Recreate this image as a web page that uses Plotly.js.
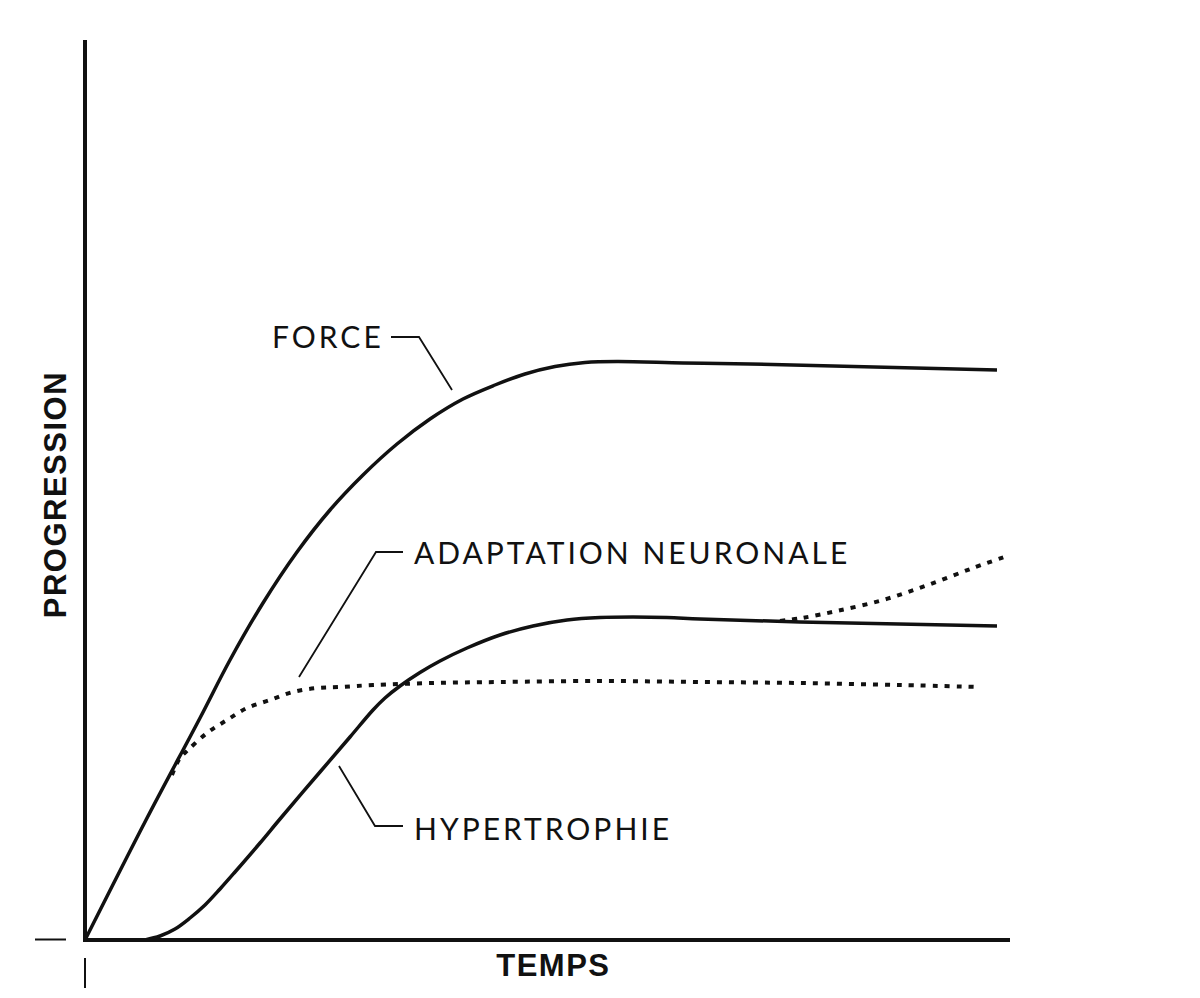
<!DOCTYPE html>
<html>
<head>
<meta charset="utf-8">
<script src="https://cdn.plot.ly/plotly-3.0.1.min.js"></script>
<style>
  html, body { margin: 0; padding: 0; background: #fff; }
  #chart { width: 1200px; height: 998px; }
</style>
</head>
<body>
<div id="chart"></div>
<script>
// Time (x) and progression (y) values, arbitrary units
var forceT = [0, 6.1, 11.5, 14.5, 17.8, 21.2, 24.5, 27.8, 31.2, 34.5, 37.8, 41.0, 44.0, 47.0, 50.0, 53.2, 59.8, 66.5, 91.2];
var forceV = [0, 12.0, 22.2, 28.0, 33.7, 38.8, 43.0, 46.5, 49.6, 52.1, 54.1, 55.5, 56.6, 57.35, 57.75, 57.85, 57.7, 57.6, 57.0];

var hyperT = [6.0, 7.5, 9.0, 10.5, 12.0, 13.5, 15.0, 17.5, 19.5, 23.5, 26.5, 28.8, 30.0, 31.5, 33.5, 35.5, 38.2, 41.5, 44.8, 48.2, 51.5, 54.8, 58.2, 61.5, 71.5, 91.2];
var hyperV = [0, 0.4, 1.1, 2.2, 3.5, 5.1, 6.8, 9.7, 12.1, 16.8, 20.3, 23.0, 24.2, 25.4, 26.75, 27.9, 29.2, 30.5, 31.4, 32.0, 32.25, 32.3, 32.25, 32.1, 31.8, 31.4];

var neuroT = [8.7, 9.5, 10.3, 12.2, 14.2, 16.2, 18.5, 20.8, 23.2, 25.5, 28.8, 34.8, 41.5, 51.5, 61.5, 71.5, 81.5, 89.5];
var neuroV = [16.5, 18.2, 19.0, 20.7, 22.0, 23.2, 24.0, 24.8, 25.2, 25.3, 25.5, 25.7, 25.8, 25.9, 25.8, 25.7, 25.5, 25.3];

var branchT = [69.5, 71.7, 75.2, 79.8, 84.3, 88.8, 92.5];
var branchV = [31.9, 32.2, 32.9, 34.0, 35.5, 37.2, 38.5];

var labels = ["FORCE", "ADAPTATION NEURONALE", "HYPERTROPHIE"];
var xTitle = "TEMPS";
var yTitle = "PROGRESSION";

var ink = "#111111";

var traces = [
  {x: forceT, y: forceV, mode: "lines", line: {color: ink, width: 3.5, shape: "spline", smoothing: 1}, hoverinfo: "skip"},
  {x: hyperT, y: hyperV, mode: "lines", line: {color: ink, width: 3.5, shape: "spline", smoothing: 1}, hoverinfo: "skip"},
  {x: neuroT, y: neuroV, mode: "lines", line: {color: ink, width: 4, shape: "spline", smoothing: 1, dash: "5px,7px"}, hoverinfo: "skip"},
  {x: branchT, y: branchV, mode: "lines", line: {color: ink, width: 4, shape: "spline", smoothing: 1, dash: "5px,7px"}, hoverinfo: "skip"}
];

function seg(x0, y0, x1, y1, w) {
  return {type: "line", xref: "x", yref: "y", x0: x0, y0: y0, x1: x1, y1: y1, line: {color: ink, width: w}};
}
function path(pts, w) {
  var d = "M" + pts.map(function (p) { return p[0] + "," + p[1]; }).join(" L");
  return {type: "path", xref: "x", yref: "y", path: d, line: {color: ink, width: w}};
}

var shapes = [
  seg(0, 0, 0, 90, 4),
  seg(-0.2, 0, 92.5, 0, 4),
  seg(-5, 0.05, -1.9, 0.05, 2),
  seg(0, -1.8, 0, -4.8, 2),
  path([[30.6, 60.3], [33.4, 60.3], [36.7, 55.0]], 1.8),
  path([[31.8, 38.8], [29.1, 38.8], [21.4, 26.3]], 1.8),
  path([[31.8, 11.4], [29.0, 11.4], [25.4, 17.4]], 1.8)
];

var lblFont = {family: "Lato, 'Open Sans', sans-serif", size: 30, color: ink, weight: 400};
var annotations = [
  {x: 18.5, y: 60.4, text: labels[0], showarrow: false, xanchor: "left", yanchor: "middle", font: lblFont},
  {x: 32.7, y: 38.8, text: labels[1], showarrow: false, xanchor: "left", yanchor: "middle", font: lblFont},
  {x: 32.7, y: 11.2, text: labels[2], showarrow: false, xanchor: "left", yanchor: "middle", font: lblFont},
  {x: 46.8, y: -2.5, text: "<b>" + xTitle + "</b>", showarrow: false, xanchor: "center", yanchor: "middle",
   font: {family: "'Liberation Sans', Arial, sans-serif", size: 31, color: ink}},
  {x: -3.0, y: 44.5, text: "<b>" + yTitle + "</b>", showarrow: false, textangle: -90, xanchor: "center", yanchor: "middle",
   font: {family: "'Liberation Sans', Arial, sans-serif", size: 31, color: ink}}
];

var layout = {
  width: 1200, height: 998,
  margin: {l: 0, r: 0, t: 0, b: 0},
  paper_bgcolor: "#ffffff", plot_bgcolor: "#ffffff",
  showlegend: false,
  xaxis: {range: [-8.5, 111.5], visible: false, fixedrange: true},
  yaxis: {range: [-5.8, 94], visible: false, fixedrange: true},
  shapes: shapes,
  annotations: annotations
};

Plotly.newPlot("chart", traces, layout, {staticPlot: true}).then(function () {
  // widen label tracking like the original; keep the left edge fixed
  var texts = document.querySelectorAll(".annotation-text");
  for (var i = 0; i < texts.length; i++) {
    var t = texts[i];
    var ls = i < 3 ? 3 : 1.5;
    var before = t.getBBox();
    t.style.letterSpacing = ls + "px";
    var after = t.getBBox();
    if (i < 3) {
      var dx = before.x - after.x;
      var tr = t.getAttribute("transform") || "";
      t.setAttribute("transform", tr + " translate(" + dx + ",0)");
    }
  }
});
</script>
</body>
</html>
